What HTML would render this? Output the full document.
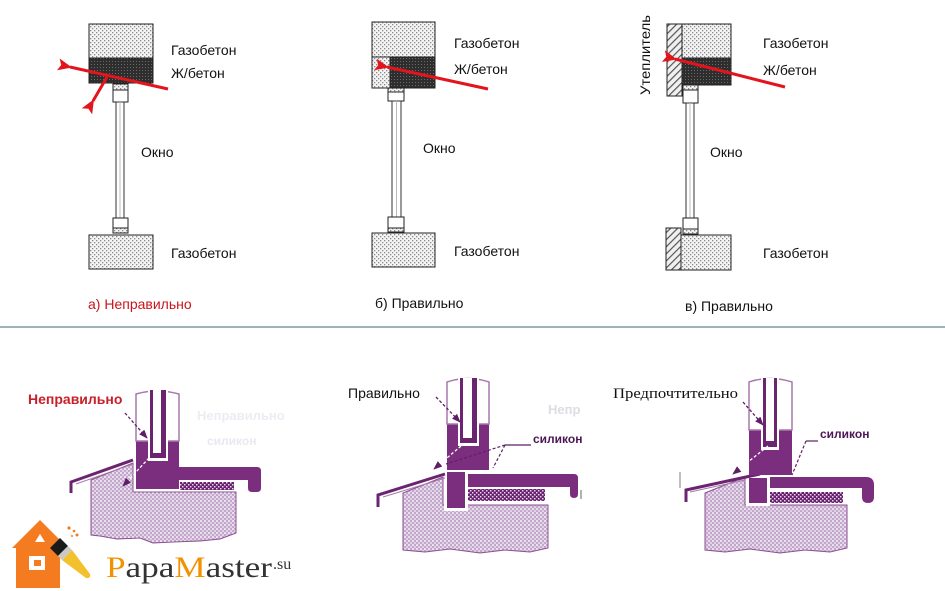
<!DOCTYPE html>
<html><head><meta charset="utf-8"><style>
html,body{margin:0;padding:0;background:#fff;}
svg{display:block;}
.t{font-family:"Liberation Sans",Arial,sans-serif;font-size:14px;fill:#111;}
</style></head><body>
<svg width="945" height="591" viewBox="0 0 945 591" xmlns="http://www.w3.org/2000/svg">
<defs>
<pattern id="lt" width="4" height="4" patternUnits="userSpaceOnUse">
<rect width="4" height="4" fill="#f4f4f4"/>
<rect x="0" y="0" width="1.3" height="1.3" fill="#8a8a8a"/>
<rect x="2" y="2" width="1.3" height="1.3" fill="#8a8a8a"/>
</pattern>
<pattern id="dk" width="3" height="3" patternUnits="userSpaceOnUse">
<rect width="3" height="3" fill="#2e2e2e"/>
<rect x="1" y="1" width="1" height="1" fill="#6a6a6a"/>
</pattern>
<pattern id="ht" width="5" height="5" patternUnits="userSpaceOnUse" patternTransform="rotate(45)">
<rect width="5" height="5" fill="#f0f0f0"/>
<rect x="0" y="0" width="1.2" height="5" fill="#555"/>
</pattern>
<pattern id="wall" width="4" height="4" patternUnits="userSpaceOnUse">
<rect width="4" height="4" fill="#c2a6cb"/>
<ellipse cx="1" cy="1" rx="1.2" ry="0.8" fill="#fff"/>
<ellipse cx="3" cy="3" rx="1.2" ry="0.8" fill="#f1e9f3"/>
</pattern>
<pattern id="ins" width="4" height="4" patternUnits="userSpaceOnUse">
<rect width="4" height="4" fill="#6a2270"/>
<rect x="0" y="0" width="1.5" height="1.5" fill="#e4d4e8"/>
<rect x="2" y="2" width="1.5" height="1.5" fill="#e4d4e8"/>
</pattern>
<marker id="ra" markerWidth="14" markerHeight="12" refX="2" refY="6" orient="auto" markerUnits="userSpaceOnUse">
<path d="M0,6 L14,0 L11,6 L14,12 Z" fill="#e3141c"/>
</marker>
<marker id="pa" markerWidth="9" markerHeight="7" refX="8" refY="3.5" orient="auto" markerUnits="userSpaceOnUse">
<path d="M0,0 L9,3.5 L0,7 Z" fill="#5e1f66"/>
</marker>
</defs>

<!-- ===== TOP LEFT ===== -->
<rect x="89" y="24" width="64" height="34" fill="url(#lt)" stroke="#222"/>
<rect x="89" y="58" width="64" height="25" fill="url(#dk)" stroke="#222"/>
<rect x="113" y="84" width="15" height="18" fill="#fff" stroke="#222"/>
<rect x="113" y="84" width="15" height="6" fill="url(#lt)" stroke="#222"/>
<rect x="116" y="102" width="8" height="116" fill="#fff" stroke="#333"/>
<line x1="120" y1="102" x2="120" y2="218" stroke="#bbb"/>
<rect x="113" y="218" width="15" height="15" fill="#fff" stroke="#222"/>
<rect x="113" y="228" width="15" height="5" fill="url(#lt)" stroke="#222"/>
<rect x="89" y="235" width="64" height="34" fill="url(#lt)" stroke="#222"/>
<line x1="168" y1="89" x2="70" y2="67" stroke="#e3141c" stroke-width="3" marker-end="url(#ra)"/>
<line x1="107" y1="77" x2="93" y2="101" stroke="#e3141c" stroke-width="3" marker-end="url(#ra)"/>
<text class="t" x="171" y="55">Газобетон</text>
<text class="t" x="171" y="78">Ж/бетон</text>
<text class="t" x="141" y="157">Окно</text>
<text class="t" x="171" y="258">Газобетон</text>
<text class="t" x="88" y="309" style="fill:#c8141c">а) Неправильно</text>

<!-- ===== TOP MIDDLE ===== -->
<rect x="372" y="22" width="63" height="35" fill="url(#lt)" stroke="#222"/>
<rect x="372" y="57" width="18" height="31" fill="url(#lt)" stroke="#222"/>
<rect x="390" y="57" width="45" height="31" fill="url(#dk)" stroke="#222"/>
<rect x="388" y="88" width="16" height="13" fill="#fff" stroke="#222"/>
<rect x="388" y="88" width="16" height="4" fill="url(#lt)" stroke="#222"/>
<rect x="392" y="101" width="9" height="116" fill="#fff" stroke="#333"/>
<line x1="396.5" y1="101" x2="396.5" y2="217" stroke="#bbb"/>
<rect x="388" y="217" width="16" height="15" fill="#fff" stroke="#222"/>
<rect x="388" y="228" width="16" height="4" fill="url(#lt)" stroke="#222"/>
<rect x="372" y="233" width="63" height="34" fill="url(#lt)" stroke="#222"/>
<line x1="488" y1="89" x2="387" y2="67" stroke="#e3141c" stroke-width="3" marker-end="url(#ra)"/>
<text class="t" x="454" y="48">Газобетон</text>
<text class="t" x="454" y="74">Ж/бетон</text>
<text class="t" x="423" y="153">Окно</text>
<text class="t" x="454" y="256">Газобетон</text>
<text class="t" x="375" y="308">б) Правильно</text>

<!-- ===== TOP RIGHT ===== -->
<rect x="667" y="24" width="15" height="72" fill="url(#ht)" stroke="#222"/>
<rect x="682" y="24" width="49" height="34" fill="url(#lt)" stroke="#222"/>
<rect x="682" y="58" width="49" height="27" fill="url(#dk)" stroke="#222"/>
<rect x="683" y="85" width="15" height="18" fill="#fff" stroke="#222"/>
<rect x="683" y="85" width="15" height="5" fill="url(#lt)" stroke="#222"/>
<rect x="686" y="103" width="8" height="115" fill="#fff" stroke="#333"/>
<line x1="690" y1="103" x2="690" y2="218" stroke="#bbb"/>
<rect x="683" y="218" width="15" height="16" fill="#fff" stroke="#222"/>
<rect x="683" y="229" width="15" height="5" fill="url(#lt)" stroke="#222"/>
<rect x="666" y="228" width="15" height="42" fill="url(#ht)" stroke="#222"/>
<rect x="681" y="235" width="50" height="35" fill="url(#lt)" stroke="#222"/>
<line x1="785" y1="87" x2="675" y2="59" stroke="#e3141c" stroke-width="3" marker-end="url(#ra)"/>
<text class="t" x="647" y="57" text-anchor="middle" dominant-baseline="central" transform="rotate(-90 645 57)" textLength="80" lengthAdjust="spacingAndGlyphs">Утеплитель</text>
<text class="t" x="763" y="48">Газобетон</text>
<text class="t" x="763" y="75">Ж/бетон</text>
<text class="t" x="710" y="157">Окно</text>
<text class="t" x="763" y="258">Газобетон</text>
<text class="t" x="685" y="311">в) Правильно</text>

<!-- separator -->
<line x1="0" y1="327" x2="945" y2="327" stroke="#7f98a8" stroke-width="1.5"/>

<!-- ===== BOTTOM LEFT ===== -->
<text x="197" y="420" style="font-family:'Liberation Sans',sans-serif;font-size:13px;font-weight:bold;fill:#ececf2">Неправильно</text>
<text x="207" y="445" style="font-family:'Liberation Sans',sans-serif;font-size:12px;font-weight:bold;fill:#e8e8f0">силикон</text>
<path d="M91,480 L133,463 L133,492 L236,492 L236,533 L220,539 L200,541 L173,542 L153,543 L140,538 L117,539 L100,536 L91,535 Z" fill="url(#wall)" stroke="#8c4f92" stroke-width="1"/>
<path d="M71,493 V482 L133,460" fill="none" stroke="#6b2470" stroke-width="3"/>
<path d="M76,484 L133,464" fill="none" stroke="#a77aac" stroke-width="1"/>
<rect x="136" y="441" width="43" height="48" fill="#7b2d7e"/>
<path d="M136,441 V394 Q157,388 179,394 V441 Z" fill="#fff" stroke="#a77aac" stroke-width="1.5"/>
<rect x="148" y="390" width="20" height="71" fill="#fff"/>
<rect x="150" y="390" width="16" height="68" fill="#6b2470"/>
<rect x="153" y="390" width="8" height="63" fill="#fff"/>
<path d="M179,467 H257 Q261,467 261,471 V488 Q261,492 257,492 H252 Q248,492 248,488 V480 H179 Z" fill="#7b2d7e"/>
<rect x="180" y="482" width="54" height="8" fill="url(#ins)"/>
<line x1="125" y1="413" x2="147" y2="438" stroke="#5e1f66" stroke-width="1.3" stroke-dasharray="3,2" marker-end="url(#pa)"/>
<line x1="149" y1="458" x2="123" y2="486" stroke="#fff" stroke-width="1.3" stroke-dasharray="3,2" marker-end="url(#pa)"/>
<text x="28" y="404" style="font-family:'Liberation Sans',sans-serif;font-size:14px;font-weight:bold;fill:#c8202a">Неправильно</text>

<!-- ===== BOTTOM MIDDLE ===== -->
<text x="548" y="414" style="font-family:'Liberation Sans',sans-serif;font-size:13px;font-weight:bold;fill:#dcdce4">Непр</text>
<path d="M403,493 L443,477 L443,505 L548,505 L548,548 L530,552 L505,550 L480,553 L450,549 L425,552 L403,550 Z" fill="url(#wall)" stroke="#8c4f92" stroke-width="1"/>
<rect x="444" y="470" width="24" height="41" fill="#fff"/>
<path d="M378,507 V495 L445,474" fill="none" stroke="#6b2470" stroke-width="3"/>
<path d="M383,497 L445,478" fill="none" stroke="#a77aac" stroke-width="1"/>
<rect x="447" y="424" width="42" height="46" fill="#7b2d7e"/>
<rect x="447" y="472" width="18" height="36" fill="#7b2d7e"/>
<path d="M447,424 V382 Q468,375 489,382 V424 Z" fill="#fff" stroke="#a77aac" stroke-width="1.5"/>
<rect x="458" y="378" width="21" height="68" fill="#fff"/>
<rect x="460" y="378" width="17" height="65" fill="#6b2470"/>
<rect x="463" y="378" width="9" height="60" fill="#fff"/>
<path d="M468,474 H574 Q578,474 578,478 V494 Q578,498 574,498 H574 Q570,498 570,494 V487 H468 Z" fill="#7b2d7e"/>
<rect x="468" y="489" width="77" height="12" fill="url(#ins)"/>
<line x1="581" y1="490" x2="581" y2="499" stroke="#999" stroke-width="1.5"/>
<line x1="436" y1="397" x2="460" y2="422" stroke="#5e1f66" stroke-width="1.3" stroke-dasharray="3,2" marker-end="url(#pa)"/>
<line x1="461" y1="446" x2="434" y2="469" stroke="#fff" stroke-width="1.3" stroke-dasharray="3,2" marker-end="url(#pa)"/>
<line x1="531" y1="445" x2="505" y2="445" stroke="#5e1f66" stroke-width="1.2"/>
<line x1="505" y1="445" x2="493" y2="468" stroke="#5e1f66" stroke-width="1.2" stroke-dasharray="3,2"/>
<line x1="505" y1="445" x2="446" y2="464" stroke="#5e1f66" stroke-width="1.2" stroke-dasharray="3,2"/>
<text x="533" y="443" style="font-family:'Liberation Sans',sans-serif;font-size:12px;font-weight:bold;fill:#4e1656">силикон</text>
<text x="348" y="398" class="t">Правильно</text>

<!-- ===== BOTTOM RIGHT ===== -->
<path d="M705,493 L745,477 L745,505 L847,505 L847,548 L830,552 L805,550 L780,553 L750,549 L725,552 L705,550 Z" fill="url(#wall)" stroke="#8c4f92" stroke-width="1"/>
<rect x="746" y="475" width="24" height="31" fill="#fff"/>
<path d="M686,502 V490 L760,474" fill="none" stroke="#6b2470" stroke-width="3"/>
<path d="M690,492 L745,480" fill="none" stroke="#a77aac" stroke-width="1"/>
<rect x="749" y="430" width="43" height="45" fill="#7b2d7e"/>
<rect x="749" y="478" width="18" height="25" fill="#7b2d7e"/>
<path d="M749,430 V382 Q770,375 792,382 V430 Z" fill="#fff" stroke="#a77aac" stroke-width="1.5"/>
<rect x="761" y="378" width="18" height="72" fill="#fff"/>
<rect x="763" y="378" width="14" height="69" fill="#6b2470"/>
<rect x="766" y="378" width="8" height="63" fill="#fff"/>
<path d="M770,477 H866 Q874,477 874,485 V497 Q874,503 868,503 Q862,503 862,497 V488 H770 Z" fill="#7b2d7e"/>
<rect x="770" y="492" width="73" height="11" fill="url(#ins)"/>
<line x1="680" y1="472" x2="680" y2="488" stroke="#aaa" stroke-width="1.5"/>
<line x1="743" y1="402" x2="763" y2="425" stroke="#5e1f66" stroke-width="1.3" stroke-dasharray="3,2" marker-end="url(#pa)"/>
<line x1="768" y1="446" x2="733" y2="474" stroke="#fff" stroke-width="1.3" stroke-dasharray="3,2" marker-end="url(#pa)"/>
<line x1="818" y1="441" x2="806" y2="441" stroke="#5e1f66" stroke-width="1.2"/>
<line x1="806" y1="441" x2="792" y2="475" stroke="#5e1f66" stroke-width="1.2" stroke-dasharray="3,2"/>
<text x="820" y="438" style="font-family:'Liberation Sans',sans-serif;font-size:12px;font-weight:bold;fill:#4e1656">силикон</text>
<text x="613" y="398" style="font-family:'Liberation Serif',serif;font-size:15px;fill:#111" textLength="125" lengthAdjust="spacingAndGlyphs">Предпочтительно</text>

<!-- ===== LOGO ===== -->
<g>
<path d="M12,548 L40,520 L66,546 L60,546 L60,588 L16,588 L16,548 Z" fill="#f47b20"/>
<path d="M40,534 L35,542 L45,542 Z" fill="#fff"/>
<rect x="29" y="556" width="16" height="14" fill="#fff"/>
<rect x="34" y="560" width="7" height="6" fill="#f47b20"/>
<path d="M50,548 L60,538 L68,546 L58,556 Z" fill="#1a1a1a"/>
<path d="M58,556 L68,546 L72,550 L62,560 Z" fill="#c9c9c9"/>
<path d="M62,560 L72,550 L90,574 Q91,579 86,578 Z" fill="#f3c12e"/>
<circle cx="69" cy="528" r="1.6" fill="#f47b20"/>
<circle cx="74" cy="531" r="1.3" fill="#f47b20"/>
<circle cx="77" cy="535" r="1.5" fill="#f47b20"/>
<circle cx="72" cy="536" r="1" fill="#f47b20"/>
</g>
<text x="106" y="577" style="font-family:'Liberation Serif',serif;font-size:30px;fill:#333" textLength="166" lengthAdjust="spacingAndGlyphs"><tspan fill="#f39200">P</tspan>apa<tspan fill="#f39200">M</tspan>aster</text>
<text x="273" y="569" style="font-family:'Liberation Serif',serif;font-size:16px;fill:#333">.su</text>
</svg>
</body></html>
